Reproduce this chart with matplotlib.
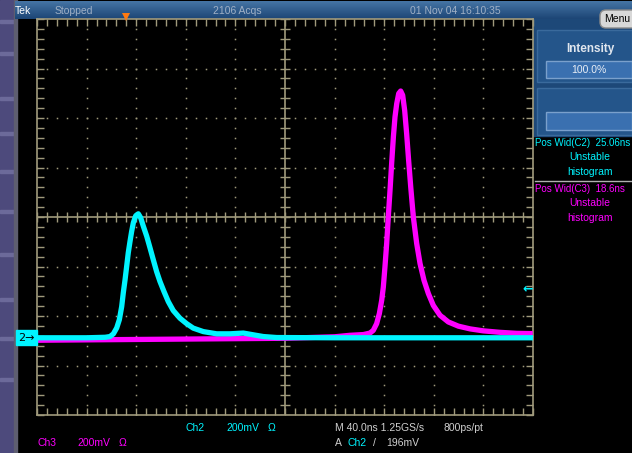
# Recreate the Tek scope screenshot (Ch2 cyan pulse, Ch3 magenta pulse)
import numpy as np
import matplotlib.pyplot as plt
from matplotlib.colors import LinearSegmentedColormap
from matplotlib.patches import Rectangle, FancyBboxPatch
from matplotlib.transforms import blended_transform_factory

plt.rcParams["font.family"] = ["Liberation Sans Narrow", "Liberation Sans", "DejaVu Sans"]

# Ch2 trace: time (ns) and voltage (mV)
ch2_time = [-200, -160, -145, -141.1, -138.4, -135.7, -133.6, -131.7, -130.4, -129.0,
            -127.7, -126.4, -125.0, -123.7, -122.3, -120.4, -118.3, -116.4, -114.2,
            -111.5, -108.9, -106.2, -103.5, -100.8, -97.6, -94.1, -90.1, -84.7,
            -79.3, -74.0, -65.9, -55.1, -44.4, -33.6, -25.6, -17.5, -6.7, 40, 200]
ch2_mv = [0, 0, 2, 5, 16, 40, 73, 126, 182, 234,
          288, 343, 389, 429, 465, 493, 501, 485, 450,
          410, 364, 315, 267, 227, 187, 146, 110, 79,
          57, 39, 25, 16, 16, 19, 12, 5, 1, 0, 0]

# Ch3 trace: time (ns) and voltage (mV)
ch3_time = [-200, 0, 40, 52.4, 63.2, 68.5, 71.2, 73.9, 76.1, 78.0, 79.3, 80.6, 82.0,
            83.3, 84.7, 86.0, 87.4, 88.7, 90.1, 91.7, 93.3, 94.9, 96.5, 98.1, 99.7,
            101.4, 103.5, 106.2, 108.9, 112.1, 115.6, 119.6, 125.0, 131.7, 139.8,
            149.2, 159.9, 173.4, 186.8, 197.6]
ch3_mv = [0, 8, 14, 20, 23, 29, 40, 67, 108, 162, 215, 296, 391,
          498, 606, 714, 821, 902, 956, 997, 1007, 990, 929, 835, 727,
          619, 498, 391, 310, 242, 189, 141, 101, 74, 57,
          46, 38, 32, 28, 27]

# Scope settings
ns_per_div = 40
mv_per_div = 200
ch2_offset_div = -2.44
ch3_offset_div = -2.49
trigger_time = -128
trigger_level_mv = 196

# Screen text
header_texts = [("Tek", 15, "white"), ("Stopped", 55, "#9fb0c6"),
                ("2106 Acqs", 213, "#9fb0c6"), ("01 Nov 04 16:10:35", 410, "#9fb0c6")]

grat_col = "#a09a7c"
cyan = "#00f4ff"
magenta = "#ff00ff"
fs = 7.5

fig = plt.figure(figsize=(6.32, 4.53), dpi=100, facecolor="black")

# Full-screen axes in pixel units for the instrument chrome
ui = fig.add_axes([0, 0, 1, 1])
ui.set_xlim(0, 632)
ui.set_ylim(453, 0)
ui.axis("off")

# Left purple button strip
ui.add_patch(Rectangle((0, 0), 14, 453, color="#4d4a7c"))
for y in [20, 52, 97, 132, 170, 210, 253, 298, 337, 378]:
    ui.add_patch(Rectangle((0, y), 14, 3, color="#6c6a9a"))
ui.add_patch(Rectangle((14, 0), 3, 453, color="#5e5e70"))

# Header bar with gradient
grad = np.linspace(0, 1, 20).reshape(-1, 1)
ui.imshow(grad, extent=[15, 632, 19, 1], aspect="auto",
          cmap=LinearSegmentedColormap.from_list("hb", ["#4574a4", "#1d4676"]), zorder=1)
for txt, x, col in header_texts:
    ui.text(x, 11, txt, color=col, fontsize=fs, va="center", ha="left")

# Right side panel
ui.add_patch(Rectangle((533, 19), 99, 117, color="#1d4878"))
ui.add_patch(FancyBboxPatch((600, 10), 40, 18, boxstyle="round,pad=0,rounding_size=6",
                            fc="#d8d8d8", ec="#8a8a8a", lw=1))
ui.text(604, 19, "Menu", color="black", fontsize=fs, va="center")
ui.add_patch(Rectangle((537, 30), 95, 52, fc="#24558a", ec="#3a6a9c", lw=1))
ui.text(590, 49, "Intensity", color="#e0e6ee", fontsize=8.5, fontweight="bold",
        ha="center", va="center")
ui.add_patch(Rectangle((546, 61), 86, 17, fc="#3a70b0", ec="#7aa0cc", lw=1))
ui.text(589, 70, "100.0%", color="#e8eef6", fontsize=fs, ha="center", va="center")
ui.add_patch(Rectangle((537, 88), 95, 47, fc="#24558a", ec="#3a6a9c", lw=1))
ui.add_patch(Rectangle((546, 112), 86, 18, fc="#3a70b0", ec="#7aa0cc", lw=1))

# Measurements
ui.text(535, 143, "Pos Wid(C2)  25.06ns", color=cyan, fontsize=7, va="center")
ui.text(590, 157, "Unstable", color=cyan, fontsize=fs, va="center", ha="center")
ui.text(590, 172, "histogram", color=cyan, fontsize=fs, va="center", ha="center")
ui.plot([535, 632], [181, 181], color="#b0b0b0", lw=1)
ui.text(535, 189, "Pos Wid(C3)  18.6ns", color=magenta, fontsize=7, va="center")
ui.text(590, 203, "Unstable", color=magenta, fontsize=fs, va="center", ha="center")
ui.text(590, 218, "histogram", color=magenta, fontsize=fs, va="center", ha="center")

# Bottom status lines
ui.text(186, 428, "Ch2", color=cyan, fontsize=fs, va="center")
ui.text(226, 428, "200mV", color=cyan, fontsize=fs, va="center")
ui.text(268, 428, "Ω", color=cyan, fontsize=fs, va="center")
ui.text(335, 428, "M 40.0ns 1.25GS/s", color="#d0d0d0", fontsize=fs, va="center")
ui.text(443, 428, "800ps/pt", color="#d0d0d0", fontsize=fs, va="center")
ui.text(37, 443, "Ch3", color=magenta, fontsize=fs, va="center")
ui.text(77, 443, "200mV", color=magenta, fontsize=fs, va="center")
ui.text(119, 443, "Ω", color=magenta, fontsize=fs, va="center")
ui.text(335, 443, "A", color="#d0d0d0", fontsize=fs, va="center")
ui.text(347, 443, "Ch2", color=cyan, fontsize=fs, va="center")
ui.text(373, 443, "/", color="#d0d0d0", fontsize=fs, va="center")
ui.text(386, 443, "196mV", color="#d0d0d0", fontsize=fs, va="center")

# Graticule axes: time in ns, vertical in divisions
ax = fig.add_axes([37 / 632, (453 - 415) / 453, 496 / 632, 396 / 453])
ax.set_facecolor("black")
ax.set_xlim(-5 * ns_per_div, 5 * ns_per_div)
ax.set_ylim(-4, 4)
for s in ax.spines.values():
    s.set_color(grat_col)
    s.set_linewidth(1.2)
minor_x = np.arange(-200, 200.1, ns_per_div / 5)
minor_y = np.arange(-4, 4.01, 0.2)
ax.set_xticks(minor_x)
ax.set_yticks(minor_y)
ax.tick_params(direction="in", length=5, width=1, color=grat_col,
               top=True, right=True, labelbottom=False, labelleft=False)

# Dotted grid lines
for k in range(-4, 5):
    if k != 0:
        ax.plot(np.full_like(minor_y, k * ns_per_div), minor_y, ls="none",
                marker="s", ms=1.1, color=grat_col, mew=0)
for j in range(-3, 4):
    if j != 0:
        ax.plot(minor_x, np.full_like(minor_x, j), ls="none",
                marker="s", ms=1.1, color=grat_col, mew=0)

# Center cross with ticks
ax.axvline(0, color=grat_col, lw=1.2)
ax.axhline(0, color=grat_col, lw=1.2)
ax.vlines(minor_x, -0.1, 0.1, color=grat_col, lw=1)
ax.hlines(minor_y, -4, 4, color=grat_col, lw=1)

# Traces
ax.plot(ch3_time, np.array(ch3_mv) / mv_per_div + ch3_offset_div,
        color=magenta, lw=3.8, solid_joinstyle="round", zorder=4)
ax.plot(ch2_time, np.array(ch2_mv) / mv_per_div + ch2_offset_div,
        color=cyan, lw=3.8, solid_joinstyle="round", zorder=5)

# Trigger position and level markers
ax.plot([trigger_time], [4.05], marker="v", ms=6, color="#ff7a10",
        mew=0, clip_on=False, zorder=6)
ax.text(200, ch2_offset_div + trigger_level_mv / mv_per_div, "←", color=cyan,
        fontsize=9, fontweight="bold", ha="right", va="center", zorder=6,
        family="DejaVu Sans")

# Ch2 ground marker
tr = blended_transform_factory(ax.transAxes, ax.transData)
ax.add_patch(Rectangle((-21 / 496, ch2_offset_div - 0.15), 21 / 496, 0.3,
                       transform=tr, color=cyan, clip_on=False, zorder=6))
ax.text(-11 / 496, ch2_offset_div, "2→", transform=tr, color="black",
        fontsize=8, ha="center", va="center", clip_on=False, zorder=7,
        family="DejaVu Sans")

plt.savefig("out.png", dpi=100, facecolor="black")
